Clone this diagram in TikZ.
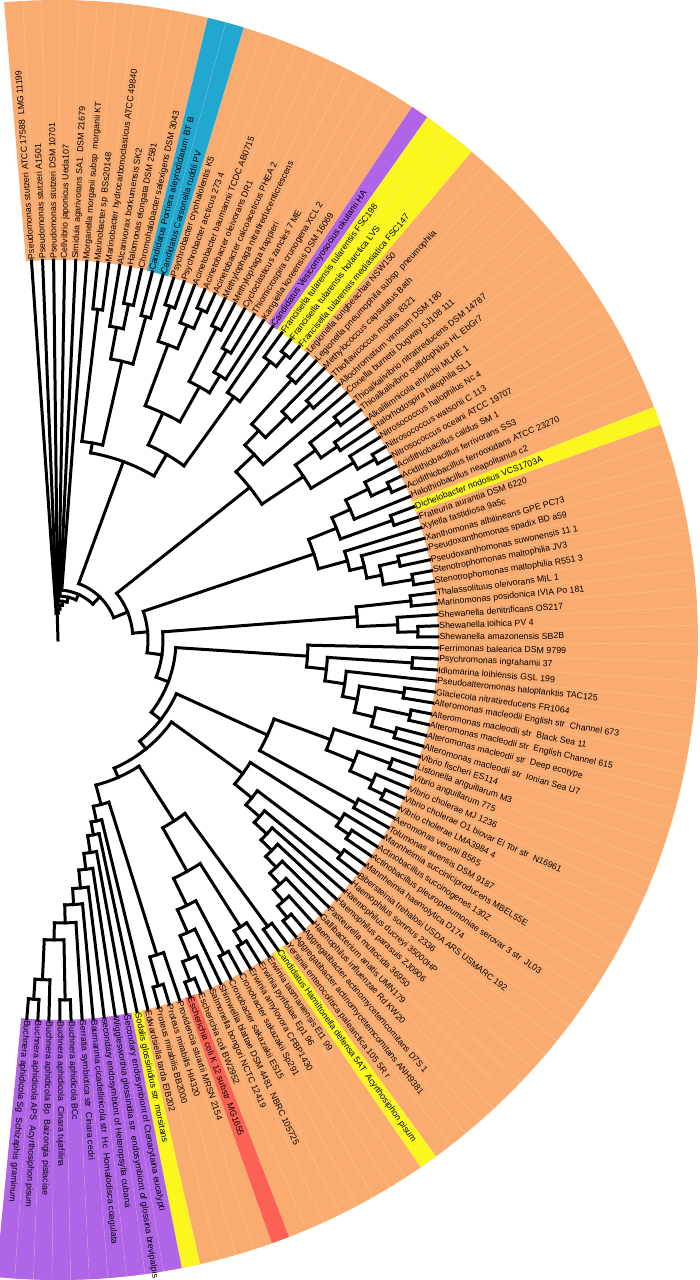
\documentclass[tikz,border=0pt]{standalone}
\usepackage{fontspec}
\setmainfont{Liberation Sans}
\definecolor{cor}{RGB}{250,172,112}
\definecolor{cbl}{RGB}{32,168,208}
\definecolor{cpu}{RGB}{176,100,232}
\definecolor{cye}{RGB}{250,246,30}
\definecolor{cre}{RGB}{252,98,84}
\newcommand\cld[4]{%
  \draw[br] ({94-1.67*(#2-1)}:#1pt) arc[start angle={94-1.67*(#2-1)}, end angle={94-1.67*(#3-1)}, radius=#1pt];
  \foreach \pc/\rc in {#4}{\draw[br] ({94-1.67*(\pc-1)}:#1pt) -- ({94-1.67*(\pc-1)}:\rc pt);}}
\newcommand\wdg[2]{\pgfmathsetmacro\wdga{94-1.67*(#1-1)+0.835}\pgfmathsetmacro\wdgb{94-1.67*(#1-1)-0.835}%
  \fill[#2] (\wdga:380pt) arc[start angle=\wdga,end angle=\wdgb,radius=380pt] -- (\wdgb:640pt) arc[start angle=\wdgb,end angle=\wdga,radius=640pt] -- cycle;}
\newcommand\lf[2]{\pgfmathsetmacro\lfang{94-1.67*(#1-1)}\node[lab,rotate=\lfang] (L#1) at (\lfang:380pt) {#2};}
\begin{document}
\begin{tikzpicture}[x=1pt,y=1pt,
  br/.style={line width=3pt, line cap=rect, black},
  sep/.style={white, opacity=0.3, line width=0.35pt},
  lab/.style={anchor=west, inner xsep=1.4pt, inner ysep=0.5pt, font=\fontsize{8.8}{10}\selectfont, text=black}]
\useasboundingbox (-58,-640) rectangle (642,640);
\begin{scope}
\clip (-58,-640) rectangle (642,640);
% band
\fill[cor] (94.835:380pt) arc[start angle=94.835,end angle=-95.545,radius=380pt] -- (-95.545:640pt) arc[start angle=-95.545,end angle=94.835,radius=640pt] -- cycle;
\wdg{12}{cbl}\wdg{13}{cbl}
\wdg{24}{cpu}
\wdg{25}{cye}\wdg{26}{cye}\wdg{27}{cye}
\wdg{45}{cye}
\wdg{90}{cye}
\wdg{99}{cre}
\wdg{104}{cye}
\foreach \i in {105,...,114}{\wdg{\i}{cpu}}
\foreach \i in {1,...,113}{\pgfmathsetmacro\sa{94-1.67*(\i-1)-0.835}\draw[sep] (\sa:380pt) -- (\sa:640pt);}
\end{scope}
% root and top caterpillar
\draw[br] ({94-1.67*(2.34-1)}:0pt) -- ({94-1.67*(2.34-1)}:27pt);
\cld{27}{1}{3.68}{1/380,3.68/31}
\cld{31}{2}{5.36}{2/380,5.36/35}
\cld{35}{3}{7.725}{3/380,7.725/39}
\cld{39}{4}{11.45}{4/380,11.45/44}
\cld{44}{5}{17.9}{5/380,17.9/50}
\cld{50}{6}{29.8}{6/380,29.8/60}
\cld{60}{15.44}{44.19}{15.44/190,44.19/75}
% upper group
\cld{190}{9.31}{21.56}{9.31/200,21.56/215}
\cld{200}{7.5}{11.125}{7.5/333,11.125/286}
\cld{333}{7}{8}{7/380,8/380}
\cld{286}{9.75}{12.5}{9.75/318,12.5/335}
\cld{318}{9}{10.5}{9/380,10.5/343}
\cld{343}{10}{11}{10/380,11/380}
\cld{335}{12}{13}{12/380,13/380}
\cld{215}{18.25}{24.875}{18.25/250,24.875/300}
\cld{250}{15.625}{20.875}{15.625/315,20.875/290}
\cld{315}{14.5}{16.75}{14.5/352,16.75/340}
\cld{352}{14}{15}{14/380,15/380}
\cld{340}{16}{17.5}{16/380,17.5/360}
\cld{360}{17}{18}{17/380,18/380}
\cld{290}{19.5}{22.25}{19.5/350,22.25/310}
\cld{350}{19}{20}{19/380,20/380}
\cld{310}{21.5}{23}{21.5/335,23/380}
\cld{335}{21}{22}{21/380,22/380}
\cld{300}{24}{25.75}{24/380,25.75/350}
\cld{350}{25}{26.5}{25/380,26.5/365}
\cld{365}{26}{27}{26/380,27/380}
% spine
\cld{75}{34.22}{54.16}{34.22/245,54.16/90}
\cld{90}{46.16}{62.16}{46.16/270,62.16/105}
\cld{105}{54.625}{69.7}{54.625/300,69.7/118}
\cld{118}{59.5}{79.89}{59.5/250,79.89/130}
\cld{130}{71.906}{87.875}{71.906/230,87.875/140}
\cld{140}{78.75}{97}{78.75/228,97/150}
% M1
\cld{245}{31.3125}{37.125}{31.3125/270,37.125/295}
\cld{270}{29.625}{33}{29.625/290,33/380}
\cld{290}{28.5}{30.75}{28.5/350,30.75/320}
\cld{350}{28}{29}{28/380,29/380}
\cld{320}{30}{31.5}{30/380,31.5/345}
\cld{345}{31}{32}{31/380,32/380}
\cld{295}{35.5}{38.75}{35.5/320,38.75/345}
\cld{320}{34.5}{36.5}{34.5/355,36.5/340}
\cld{355}{34}{35}{34/380,35/380}
\cld{340}{36}{37}{36/380,37/380}
\cld{345}{38}{39.5}{38/380,39.5/365}
\cld{365}{39}{40}{39/380,40/380}
% M2
\cld{270}{44.19}{48.125}{44.19/300,48.125/300}
\cld{300}{42.875}{45.5}{42.875/320,45.5/355}
\cld{320}{41.75}{44}{41.75/345,44/380}
\cld{345}{41}{42.5}{41/380,42.5/365}
\cld{365}{42}{43}{42/380,43/380}
\cld{355}{45}{46}{45/380,46/380}
\cld{300}{47}{49.25}{47/380,49.25/315}
\cld{315}{48}{50.5}{48/380,50.5/330}
\cld{330}{49.5}{51.5}{49.5/350,51.5/360}
\cld{350}{49}{50}{49/380,50/380}
\cld{360}{51}{52}{51/380,52/380}
% M3
\cld{300}{53.5}{55.75}{53.5/355,55.75/340}
\cld{355}{53}{54}{53/380,54/380}
\cld{340}{55}{56.5}{55/380,56.5/360}
\cld{360}{56}{57}{56/380,57/380}
% M4
\cld{250}{58}{61}{58/380,61/270}
\cld{270}{59.5}{62.5}{59.5/355,62.5/290}
\cld{355}{59}{60}{59/380,60/380}
\cld{290}{61}{64}{61/380,64/305}
\cld{305}{62.5}{65.5}{62.5/350,65.5/325}
\cld{350}{62}{63}{62/380,63/380}
\cld{325}{64.5}{66.5}{64.5/360,66.5/350}
\cld{360}{64}{65}{64/380,65/380}
\cld{350}{66}{67}{66/380,67/380}
% M5
\cld{230}{69.3125}{74.5}{69.3125/290,74.5/340}
\cld{290}{68}{70.625}{68/380,70.625/320}
\cld{320}{69.5}{71.75}{69.5/355,71.75/345}
\cld{355}{69}{70}{69/380,70/380}
\cld{345}{71}{72.5}{71/380,72.5/360}
\cld{360}{72}{73}{72/380,73/380}
\cld{340}{74}{75}{74/380,75/380}
% Pasteurellaceae
\cld{228}{76.75}{80.745}{76.75/335,80.745/250}
\cld{335}{76}{77.5}{76/380,77.5/350}
\cld{350}{77}{78}{77/380,78/380}
\cld{250}{79.5}{81.99}{79.5/355,81.99/268}
\cld{355}{79}{80}{79/380,80/380}
\cld{268}{81}{82.98}{81/380,82.98/285}
\cld{285}{82}{83.97}{82/380,83.97/300}
\cld{300}{83}{84.9375}{83/380,84.9375/315}
\cld{315}{84}{85.875}{84/380,85.875/330}
\cld{330}{85}{86.75}{85/380,86.75/345}
\cld{345}{86}{87.5}{86/380,87.5/360}
\cld{360}{87}{88}{87/380,88/380}
% Enterobacteriales
\cld{150}{91.61}{102.4}{91.61/215,102.4/170}
\cld{215}{89.5}{93.72}{89.5/355,93.72/265}
\cld{355}{89}{90}{89/380,90/380}
\cld{265}{91.75}{95.69}{91.75/340,95.69/295}
\cld{340}{91}{92.5}{91/380,92.5/355}
\cld{355}{92}{93}{92/380,93/380}
\cld{295}{94.5}{96.875}{94.5/355,96.875/320}
\cld{355}{94}{95}{94/380,95/380}
\cld{320}{96}{97.75}{96/380,97.75/345}
\cld{345}{97}{98.5}{97/380,98.5/365}
\cld{365}{98}{99}{98/380,99/380}
\cld{170}{100.75}{104}{100.75/330,104/185}
\cld{330}{100}{101.5}{100/380,101.5/360}
\cld{360}{101}{102}{101/380,102/380}
\cld{185}{103}{105.01}{103/380,105.01/198}
\cld{198}{104}{106.02}{104/380,106.02/215}
\cld{215}{105}{107.04}{105/380,107.04/231}
\cld{231}{106}{108.08}{106/380,108.08/249}
\cld{249}{107}{109.16}{107/380,109.16/265}
\cld{265}{108}{110.31}{108/380,110.31/283}
\cld{283}{109}{111.625}{109/380,111.625/300}
\cld{300}{110.5}{112.75}{110.5/360,112.75/340}
\cld{360}{110}{111}{110/380,111/380}
\cld{340}{112}{113.5}{112/380,113.5/360}
\cld{360}{113}{114}{113/380,114/380}
% labels
\lf{1}{Pseudomonas stutzeri ATCC 17588\ \ LMG 11199}
\lf{2}{Pseudomonas stutzeri A1501}
\lf{3}{Pseudomonas stutzeri DSM 10701}
\lf{4}{Cellvibrio japonicus Ueda107}
\lf{5}{Simiduia agarivorans SA1\ \ DSM 21679}
\lf{6}{Morganella morganii subsp\ \ morganii KT}
\lf{7}{Marinobacter sp\ \ BSs20148}
\lf{8}{Marinobacter hydrocarbonoclasticus ATCC 49840}
\lf{9}{Alcanivorax borkumensis SK2}
\lf{10}{Halomonas elongata DSM 2581}
\lf{11}{Chromohalobacter salexigens DSM 3043}
\lf{12}{Candidatus Portiera aleyrodidarum BT B}
\lf{13}{Candidatus Carsonella ruddii PV}
\lf{14}{Psychrobacter cryohalolentis K5}
\lf{15}{Psychrobacter arcticus 273 4}
\lf{16}{Acinetobacter baumannii TCDC AB0715}
\lf{17}{Acinetobacter oleivorans DR1}
\lf{18}{Acinetobacter calcoaceticus PHEA 2}
\lf{19}{Methylophaga nitratireducenticrescens}
\lf{20}{Methylophaga frappieri}
\lf{21}{Cycloclasticus zancles 7 ME}
\lf{22}{Thiomicrospira crunogena XCL 2}
\lf{23}{Kangiella koreensis DSM 16069}
\lf{24}{Candidatus Vesicomyosocius okutanii HA}
\lf{25}{Francisella tularensis tularensis FSC198}
\lf{26}{Francisella tularensis holarctica LVS}
\lf{27}{Francisella tularensis mediasiatica FSC147}
\lf{28}{Legionella longbeachae NSW150}
\lf{29}{Legionella pneumophila subsp\ \ pneumophila}
\lf{30}{Methylococcus capsulatus Bath}
\lf{31}{Thioflavicoccus mobilis 8321}
\lf{32}{Allochromatium vinosum DSM 180}
\lf{33}{Coxiella burnetii Dugway 5J108 111}
\lf{34}{Thioalkalivibrio nitratireducens DSM 14787}
\lf{35}{Thioalkalivibrio sulfidophilus HL EbGr7}
\lf{36}{Alkalilimnicola ehrlichii MLHE 1}
\lf{37}{Halorhodospira halophila SL1}
\lf{38}{Nitrosococcus halophilus Nc 4}
\lf{39}{Nitrosococcus watsonii C 113}
\lf{40}{Nitrosococcus oceani ATCC 19707}
\lf{41}{Acidithiobacillus caldus SM 1}
\lf{42}{Acidithiobacillus ferrivorans SS3}
\lf{43}{Acidithiobacillus ferrooxidans ATCC 23270}
\lf{44}{Halothiobacillus neapolitanus c2}
\lf{45}{Dichelobacter nodosus VCS1703A}
\lf{46}{Frateuria aurantia DSM 6220}
\lf{47}{Xylella fastidiosa 9a5c}
\lf{48}{Xanthomonas albilineans GPE PC73}
\lf{49}{Pseudoxanthomonas spadix BD a59}
\lf{50}{Pseudoxanthomonas suwonensis 11 1}
\lf{51}{Stenotrophomonas maltophilia JV3}
\lf{52}{Stenotrophomonas maltophilia R551 3}
\lf{53}{Thalassolituus oleivorans MIL 1}
\lf{54}{Marinomonas posidonica IVIA Po 181}
\lf{55}{Shewanella denitrificans OS217}
\lf{56}{Shewanella loihica PV 4}
\lf{57}{Shewanella amazonensis SB2B}
\lf{58}{Ferrimonas balearica DSM 9799}
\lf{59}{Psychromonas ingrahamii 37}
\lf{60}{Idiomarina loihiensis GSL 199}
\lf{61}{Pseudoalteromonas haloplanktis TAC125}
\lf{62}{Glaciecola nitratireducens FR1064}
\lf{63}{Alteromonas macleodii English str\ \ Channel 673}
\lf{64}{Alteromonas macleodii str\ \ Black Sea 11}
\lf{65}{Alteromonas macleodii str\ \ English Channel 615}
\lf{66}{Alteromonas macleodii str\ \ Deep ecotype}
\lf{67}{Alteromonas macleodii str\ \ Ionian Sea U7}
\lf{68}{Vibrio fischeri ES114}
\lf{69}{Listonella anguillarum M3}
\lf{70}{Vibrio anguillarum 775}
\lf{71}{Vibrio cholerae MJ 1236}
\lf{72}{Vibrio cholerae O1 biovar El Tor str\ \ N16961}
\lf{73}{Vibrio cholerae LMA3984 4}
\lf{74}{Aeromonas veronii B565}
\lf{75}{Tolumonas auensis DSM 9187}
\lf{76}{Mannheimia succiniciproducens MBEL55E}
\lf{77}{Actinobacillus succinogenes 130Z}
\lf{78}{Actinobacillus pleuropneumoniae serovar 3 str\ \ JL03}
\lf{79}{Mannheimia haemolytica D174}
\lf{80}{Bibersteinia trehalosi USDA ARS USMARC 192}
\lf{81}{Haemophilus somnus 2336}
\lf{82}{Haemophilus ducreyi 35000HP}
\lf{83}{Haemophilus parasuis ZJ0906}
\lf{84}{Pasteurella multocida 36950}
\lf{85}{Gallibacterium anatis UMN179}
\lf{86}{Haemophilus influenzae Rd KW20}
\lf{87}{Aggregatibacter actinomycetemcomitans D7S 1}
\lf{88}{Aggregatibacter actinomycetemcomitans ANH9381}
\lf{89}{Yersinia enterocolitica palearctica 105 5R r}
\lf{90}{Candidatus Hamiltonella defensa 5AT\ \ Acyrthosiphon pisum}
\lf{91}{Erwinia tasmaniensis Et1 99}
\lf{92}{Erwinia pyrifoliae Ep1 96}
\lf{93}{Erwinia amylovora CFBP1430}
\lf{94}{Cronobacter sakazakii Sp291}
\lf{95}{Cronobacter sakazakii ES15}
\lf{96}{Shimwellia blattae DSM 4481\ \ NBRC 105725}
\lf{97}{Salmonella bongori NCTC 12419}
\lf{98}{Escherichia coli BW2952}
\lf{99}{Escherichia coli K 12 substr\ \ MG1655}
\lf{100}{Providencia stuartii MRSN 2154}
\lf{101}{Proteus mirabilis HI4320}
\lf{102}{Proteus mirabilis BB2000}
\lf{103}{Edwardsiella tarda EIB202}
\lf{104}{Sodalis glossinidius str\ \ morsitans}
\lf{105}{Secondary endosymbiont of Ctenarytaina eucalypti}
\lf{106}{Wigglesworthia glossinidia str\ \ endosymbiont of glossina brevipalpis}
\lf{107}{secondary endosymbiont of Heteropsylla cubana}
\lf{108}{Baumannia cicadellinicola str\ \ Hc\ \ Homalodisca coagulata}
\lf{109}{Serratia symbiotica str\ \ Cinara cedri}
\lf{110}{Buchnera aphidicola BCc}
\lf{111}{Buchnera aphidicola\ \ Cinara tujafilina}
\lf{112}{Buchnera aphidicola Bp\ \ Baizongia pistaciae}
\lf{113}{Buchnera aphidicola APS\ \ Acyrthosiphon pisum}
\lf{114}{Buchnera aphidicola Sg\ \ Schizaphis graminum}
\end{tikzpicture}
\end{document}
